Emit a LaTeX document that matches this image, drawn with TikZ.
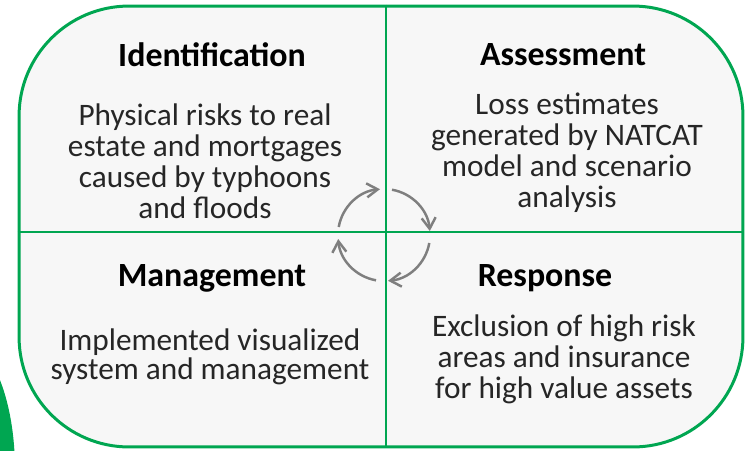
\documentclass[tikz,border=0pt]{standalone}
\usepackage{fontspec}
\setmainfont{Carlito}
\usepackage{tikz}
\usepackage{xcolor}
\usetikzlibrary{arrows.meta,positioning,calc}
\definecolor{leaf}{HTML}{00A651}
\definecolor{panel}{HTML}{F7F7F7}
\definecolor{ink}{HTML}{262626}
\definecolor{cycgray}{HTML}{7F7F7F}
\tikzset{
  frame/.style={draw=leaf,fill=panel,line width=1.7pt,rounded corners=2.2cm,
                minimum width=14.48cm,minimum height=8.82cm,inner sep=0pt},
  divider/.style={draw=leaf,line width=1.1pt},
  headline/.style={anchor=base,inner sep=0pt,text=black,
                   font=\fontsize{19.3}{20}\selectfont\bfseries},
  bodytext/.style={anchor=base,inner sep=0pt,align=center,text=ink,
                   font=\fontsize{17.8}{17.6}\selectfont},
  cyclearr/.style={-{Straight Barb[length=2.2mm,width=2.8mm]},line width=1.4pt,
                   color=cycgray}
}
\begin{document}
\begin{tikzpicture}[x=0.02cm,y=-0.02cm]
  \useasboundingbox (0,0) rectangle (749,450);
  % green shape at the lower left edge
  \begin{scope}
    \clip (0,0) rectangle (749,450);
    \fill[leaf] (-40,470) ellipse [x radius=1.1cm,y radius=2.62cm];
  \end{scope}
  \node[frame] (frame) at (381,226.5) {};
  \coordinate (hub) at (386,232);
  \draw[divider] (frame.north -| hub) -- (frame.south -| hub);
  \draw[divider] (frame.west |- hub) -- (frame.east |- hub);
  % quadrant titles
  \node[headline] (ident) at (212,66) {Identification};
  \node[headline] (assess) at (563,65) {Assessment};
  \node[headline] (manage) at (212,286) {Management};
  \node[headline] (respond) at (545,286) {Response};
  % quadrant texts (base = last line)
  \node[bodytext] (identtxt) at (205,218)
    {Physical risks to real\\estate and mortgages\\caused by typhoons\\and floods};
  \node[bodytext] (assesstxt) at (567,207)
    {Loss estimates\\generated by NATCAT\\model and scenario\\analysis};
  \node[bodytext,font=\fontsize{17.8}{16.4}\selectfont] (managetxt) at (210,379)
    {Implemented visualized\\system and management};
  \node[bodytext] (respondtxt) at (564,398)
    {Exclusion of high risk\\areas and insurance\\for high value assets};
  % cycle in the middle
  \coordinate (cyc) at (384,235);
  \foreach \a in {170,80,-10,-100}
    \draw[cyclearr] (cyc) ++(\a:0.92cm) arc[start angle=\a,end angle=\a-75,radius=0.92cm];
\end{tikzpicture}
\end{document}
